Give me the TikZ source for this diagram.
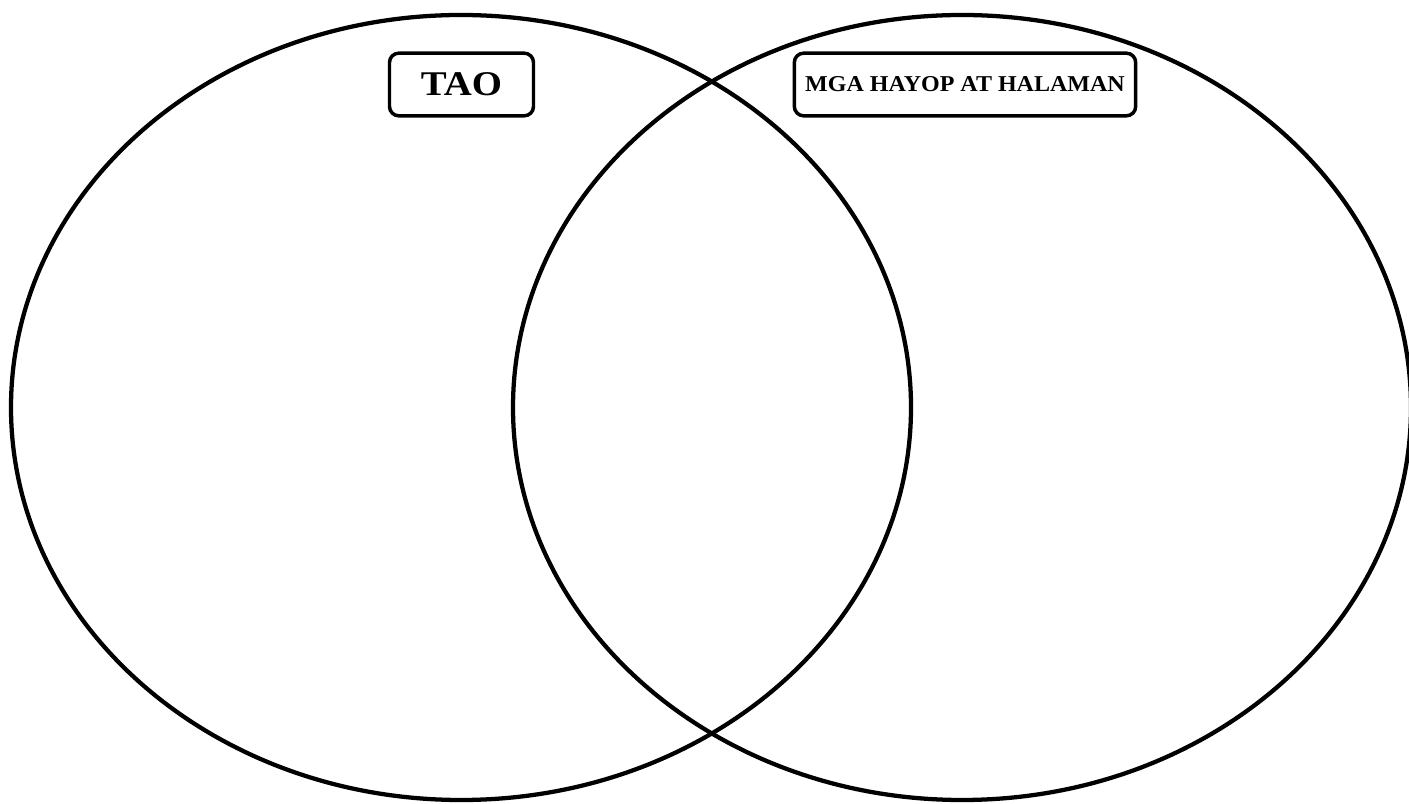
\documentclass[tikz,border=0pt]{standalone}
\usepackage{fontspec}
\setmainfont{Liberation Serif}
\begin{document}
\begin{tikzpicture}[x=0.75pt,y=0.75pt,
  ring/.style={draw=black,line width=3.2pt},
  labelbox/.style={draw=black,line width=2.6pt,rounded corners=7pt,fill=white,
    minimum height=47pt,inner sep=0pt,font=\bfseries}]
\useasboundingbox (0,0) rectangle (1409,803);
\clip (0,0) rectangle (1409,803);
\draw[ring] (461,395.5) ellipse [x radius=450, y radius=392.5];
\draw[ring] (962,395.5) ellipse [x radius=449, y radius=392.5];
\node[labelbox,minimum width=108pt,font=\bfseries\fontsize{26pt}{30pt}\selectfont] (tao) at (461.5,718.5) {\scalebox{1.12}[1]{TAO}};
\node[labelbox,minimum width=256pt,font=\bfseries\fontsize{17pt}{20pt}\selectfont] (hayop) at (965,718.5) {\scalebox{1.06}[1]{MGA HAYOP AT HALAMAN}};
\end{tikzpicture}
\end{document}
